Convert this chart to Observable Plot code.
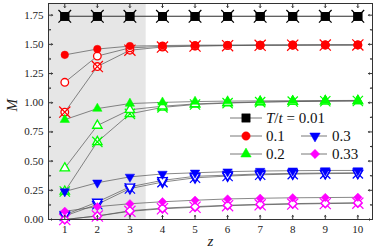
<!DOCTYPE html>
<html><head><meta charset="utf-8">
<script src="https://cdn.jsdelivr.net/npm/d3@7"></script>
<script src="https://cdn.jsdelivr.net/npm/@observablehq/plot@0.6"></script>
<style>
body{margin:0;background:#fff;}
#chart{position:relative;width:374px;height:251px;font-family:'Liberation Serif','Times New Roman',Times,serif;}
#chart svg{font-family:'Liberation Serif','Times New Roman',Times,serif;}
#chart svg.legend{position:absolute;left:0;top:0;overflow:visible;}
</style></head><body><div id="chart"></div>
<script>
// ---------- data ----------
const zValues = [1, 2, 3, 4, 5, 6, 7, 8, 9, 10];
const temperatures = ["0.01", "0.1", "0.2", "0.3", "0.33"];
const seriesColors = ["#000000", "#ff0000", "#00ff00", "#0000ff", "#ff00ff"];
const seriesSymbols = ["square", "circle", "triangle", "triangle", "diamond2"];
const symbolRotations = [0, 0, 0, 180, 0];
const symbolRadii = [4.3, 3.8, 3.5, 3.5, 3.8];

// filled markers
const filledT001 = [1.74, 1.74, 1.74, 1.74, 1.74, 1.74, 1.74, 1.74, 1.74, 1.74];
const filledT01  = [1.41, 1.46, 1.485, 1.49, 1.493, 1.494, 1.495, 1.495, 1.496, 1.496];
const filledT02  = [0.855, 0.95, 0.993, 1.003, 1.01, 1.014, 1.016, 1.018, 1.019, 1.02];
const filledT03  = [0.24, 0.315, 0.365, 0.39, 0.40, 0.41, 0.415, 0.418, 0.42, 0.42];
const filledT033 = [0.07, 0.11, 0.135, 0.152, 0.165, 0.176, 0.182, 0.186, 0.188, 0.19];
// open markers
const openT001 = [1.74, 1.74, 1.74, 1.74, 1.74, 1.74, 1.74, 1.74, 1.74, 1.74];
const openT01  = [1.175, 1.40, 1.47, 1.483, 1.488, 1.491, 1.493, 1.494, 1.495, 1.495];
const openT02  = [0.44, 0.805, 0.94, 0.97, 0.99, 1.0, 1.007, 1.011, 1.014, 1.016];
const openT03  = [0.04, 0.15, 0.28, 0.335, 0.37, 0.38, 0.39, 0.395, 0.398, 0.40];
const openT033 = [0.0, 0.03, 0.075, 0.097, 0.11, 0.122, 0.13, 0.136, 0.14, 0.143];
// crossed markers
const crossedT001 = [1.74, 1.74, 1.74, 1.74, 1.74, 1.74, 1.74, 1.74, 1.74, 1.74];
const crossedT01  = [0.92, 1.31, 1.45, 1.477, 1.485, 1.489, 1.492, 1.493, 1.494, 1.495];
const crossedT02  = [0.24, 0.665, 0.905, 0.96, 0.985, 0.997, 1.005, 1.01, 1.013, 1.015];
const crossedT03  = [0.03, 0.13, 0.265, 0.32, 0.357, 0.372, 0.383, 0.389, 0.393, 0.395];
const crossedT033 = [0.0, 0.03, 0.07, 0.092, 0.105, 0.118, 0.126, 0.132, 0.136, 0.14];

const xTicks = [1, 2, 3, 4, 5, 6, 7, 8, 9, 10];
const yTicks = [0, 0.25, 0.5, 0.75, 1.0, 1.25, 1.5, 1.75];
const yMinorTicks = [0.125, 0.375, 0.625, 0.875, 1.125, 1.375, 1.625];
const xDomain = [0.5, 10.45];
const yDomain = [0, 1.85];
const shadedBand = [{z1: 0.5, z2: 3.5}];

const FONT = "'Liberation Serif','Times New Roman',Times,serif";

// ---------- build table ----------
const filledSets = [filledT001, filledT01, filledT02, filledT03, filledT033];
const openSets = [openT001, openT01, openT02, openT03, openT033];
const crossedSets = [crossedT001, crossedT01, crossedT02, crossedT03, crossedT033];
const kinds = [["crossed", crossedSets], ["open", openSets], ["filled", filledSets]];
const rows = [];
kinds.forEach(([kind, sets]) => sets.forEach((vals, i) => vals.forEach((m, j) =>
  rows.push({z: zValues[j], M: m, series: i, kind, key: kind + i}))));

const marks = [
  Plot.rect(shadedBand, {x1: "z1", x2: "z2", fill: "#e6e6e6"}),
  Plot.line(rows, {x: "z", y: "M", z: "key", stroke: "#555", strokeWidth: 0.7})
];
for (const [kind] of kinds) {
  temperatures.forEach((t, i) => {
    const data = rows.filter(d => d.kind === kind && d.series === i);
    const base = {x: "z", y: "M", symbol: seriesSymbols[i], rotate: symbolRotations[i], r: symbolRadii[i]};
    if (kind === "filled") {
      marks.push(Plot.dot(data, {...base, fill: seriesColors[i], stroke: seriesColors[i], strokeWidth: 0.5}));
    } else {
      marks.push(Plot.dot(data, {...base, fill: "white", stroke: seriesColors[i], strokeWidth: 1.3}));
      if (kind === "crossed") {
        marks.push(Plot.dot(data, {x: "z", y: "M", symbol: "times", r: symbolRadii[i] * 1.35, stroke: seriesColors[i], strokeWidth: 1.2}));
      }
    }
  });
}
// ticks (inward)
marks.push(
  Plot.vector(xTicks, {x: d => d, frameAnchor: "bottom", length: 4, rotate: 0, anchor: "start", stroke: "#333", strokeWidth: 1}),
  Plot.vector(xTicks, {x: d => d, frameAnchor: "top", length: 4, rotate: 180, anchor: "start", stroke: "#333", strokeWidth: 1}),
  Plot.vector(yTicks, {y: d => d, frameAnchor: "left", length: 4, rotate: 90, anchor: "start", stroke: "#333", strokeWidth: 1}),
  Plot.vector(yTicks, {y: d => d, frameAnchor: "right", length: 4, rotate: 270, anchor: "start", stroke: "#333", strokeWidth: 1}),
  Plot.vector(yMinorTicks, {y: d => d, frameAnchor: "left", length: 2, rotate: 90, anchor: "start", stroke: "#333", strokeWidth: 1}),
  Plot.vector(yMinorTicks, {y: d => d, frameAnchor: "right", length: 2, rotate: 270, anchor: "start", stroke: "#333", strokeWidth: 1}),
  Plot.axisX(xTicks, {tickSize: 0, tickPadding: 6, fontSize: 11, fontFamily: FONT, label: null}),
  Plot.axisY(yTicks, {tickSize: 0, tickPadding: 5, fontSize: 11, fontFamily: FONT, label: null, tickFormat: d3.format(".2f")}),
  Plot.frame({stroke: "#333", strokeWidth: 1}),
  Plot.text(["z"], {text: d => d, frameAnchor: "bottom", dy: 26, fontStyle: "italic", fontSize: 15, fontFamily: FONT}),
  Plot.text(["M"], {text: d => d, frameAnchor: "left", dx: -36, rotate: -90, fontStyle: "italic", fontSize: 15, fontFamily: FONT})
);

const plot = Plot.plot({
  width: 374, height: 251,
  marginLeft: 48, marginRight: 2, marginTop: 3, marginBottom: 32,
  style: {fontFamily: FONT, fontSize: "11px", color: "#222", background: "white"},
  x: {domain: xDomain, axis: null},
  y: {domain: yDomain, axis: null},
  marks
});
const chart = document.getElementById("chart");
chart.appendChild(plot);

// ---------- legend ----------
const legendEntries = [
  {i: 0, col: 0, row: 0}, {i: 1, col: 0, row: 1}, {i: 3, col: 1, row: 1},
  {i: 2, col: 0, row: 2}, {i: 4, col: 1, row: 2}
];
const d3Types = {square: d3.symbolSquare, circle: d3.symbolCircle, triangle: d3.symbolTriangle, diamond2: d3.symbolDiamond2};
const colX = [[230, 262, 246, 266], [301, 327, 315, 332]];
const rowY = [118, 136, 154];
const svg = d3.select(chart).append("svg").attr("class", "legend").attr("width", 374).attr("height", 251);
legendEntries.forEach(({i, col, row}) => {
  const [x1, x2, xm, xt] = colX[col];
  const y = rowY[row];
  svg.append("line").attr("x1", x1).attr("x2", x2).attr("y1", y).attr("y2", y).attr("stroke", "#555").attr("stroke-width", 0.8);
  const rr = symbolRadii[i] * 1.1;
  svg.append("path")
    .attr("d", d3.symbol(d3Types[seriesSymbols[i]], Math.PI * rr * rr)())
    .attr("transform", `translate(${xm},${y}) rotate(${symbolRotations[i]})`)
    .attr("fill", seriesColors[i]).attr("stroke", seriesColors[i]).attr("stroke-width", 0.5);
  const text = svg.append("text").attr("x", xt).attr("y", y + 5).attr("font-size", 15)
    .attr("font-family", FONT).attr("fill", "#111");
  if (i === 0) {
    text.append("tspan").attr("font-style", "italic").text("T");
    text.append("tspan").text("/");
    text.append("tspan").attr("font-style", "italic").text("t");
    text.append("tspan").text(" = " + temperatures[i]);
  } else {
    text.text(temperatures[i]);
  }
});
</script></body></html>
